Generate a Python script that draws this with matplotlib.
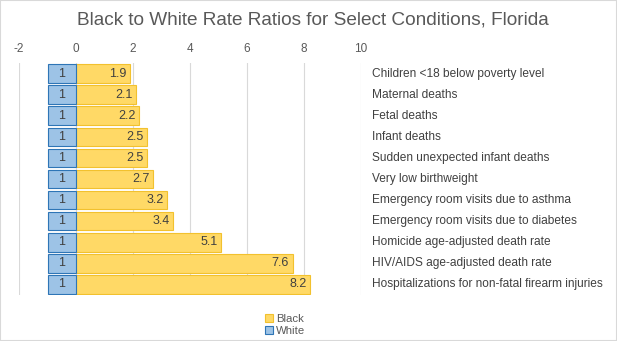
import matplotlib.pyplot as plt
from matplotlib.patches import Rectangle

conditions = [
    "Children <18 below poverty level",
    "Maternal deaths",
    "Fetal deaths",
    "Infant deaths",
    "Sudden unexpected infant deaths",
    "Very low birthweight",
    "Emergency room visits due to asthma",
    "Emergency room visits due to diabetes",
    "Homicide age-adjusted death rate",
    "HIV/AIDS age-adjusted death rate",
    "Hospitalizations for non-fatal firearm injuries",
]
black = [1.9, 2.1, 2.2, 2.5, 2.5, 2.7, 3.2, 3.4, 5.1, 7.6, 8.2]
white = [1, 1, 1, 1, 1, 1, 1, 1, 1, 1, 1]
ticks = [-2, 0, 2, 4, 6, 8, 10]

plt.rcParams['font.family'] = ['Liberation Sans', 'DejaVu Sans']
plt.rcParams['axes.unicode_minus'] = False

fig = plt.figure(figsize=(6.17, 3.41), dpi=100)
ax = fig.add_axes([19 / 617, 1 - 295 / 341, (361 - 19) / 617, (295 - 63) / 341])

y = list(range(len(conditions)))
ax.barh(y, black, height=0.88, color='#FFD966', edgecolor='#F2C12E', linewidth=0.8,
        label='Black', zorder=2)
ax.barh(y, [-w for w in white], height=0.88, color='#9DC3E6', edgecolor='#2E75B6',
        linewidth=0.8, label='White', zorder=2)

for i, (b, w) in enumerate(zip(black, white)):
    ax.text(-w / 2, i, f"{w:g}", ha='center', va='center', fontsize=9, color='#404040', zorder=3)
    ax.text(b - 0.12, i, f"{b:g}", ha='right', va='center', fontsize=9, color='#404040', zorder=3)
    ax.text(10.38, i, conditions[i], ha='left', va='center', fontsize=8.6, color='#404040',
            clip_on=False)

ax.set_xlim(-2, 10)
ax.set_ylim(len(conditions) - 0.5, -0.5)
ax.set_xticks(ticks)
ax.xaxis.tick_top()
ax.tick_params(axis='x', length=0, labelsize=8.5, labelcolor='#595959', pad=6)
ax.set_yticks([])
ax.grid(axis='x', color='#D9D9D9', linewidth=0.8, zorder=0)
for s in ax.spines.values():
    s.set_visible(False)

fig.suptitle("Black to White Rate Ratios for Select Conditions, Florida",
             x=313 / 617, y=1 - 20 / 341, va='center', fontsize=13.7, color='#595959')

h, l = ax.get_legend_handles_labels()
fig.legend(h, l, loc='center', bbox_to_anchor=(285 / 617, 1 - 325 / 341), ncol=1,
           frameon=False, fontsize=8.2, handlelength=0.7, handleheight=0.7,
           handletextpad=0.3, labelspacing=0.2, labelcolor='#595959')

fig.patches.append(Rectangle((0, 0), 1, 1, transform=fig.transFigure, fill=False,
                             edgecolor='#D9D9D9', linewidth=1.5))

fig.savefig("out.png", dpi=100)
